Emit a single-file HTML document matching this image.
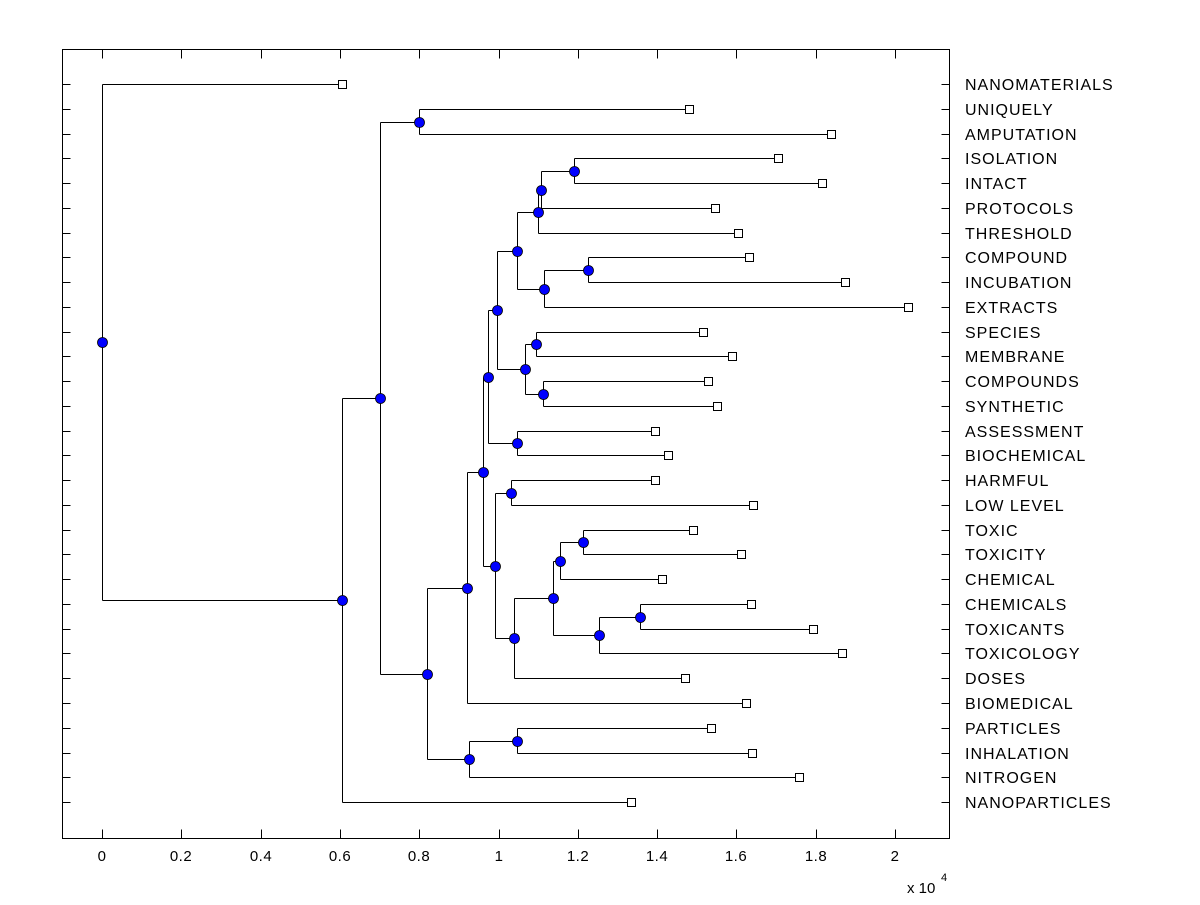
<!DOCTYPE html>
<html><head><style>body{margin:0;background:#fff}svg text{font-family:"Liberation Sans",Arial,sans-serif;fill:#000}</style></head>
<body>
<svg id="s" width="1200" height="900" xmlns="http://www.w3.org/2000/svg">
<rect x="0" y="0" width="1200" height="900" fill="#fff"/>
<g id="g" stroke="#000" stroke-width="1" fill="none" shape-rendering="crispEdges"></g>
<g id="m"></g>
<g id="t" font-size="16"></g>
</svg>
<script>
var NS="http://www.w3.org/2000/svg";
function el(p,n,a,txt){var e=document.createElementNS(NS,n);for(var k in a)e.setAttribute(k,a[k]);if(txt!=null)e.textContent=txt;document.getElementById(p).appendChild(e);return e;}
function line(x1,y1,x2,y2){el('g','line',{x1:x1+.5,y1:y1+.5,x2:x2+.5,y2:y2+.5});}
var L=62,R=949,T=49,B=838;
el('g','rect',{x:L+.5,y:T+.5,width:R-L,height:B-T});
var names=["NANOMATERIALS","UNIQUELY","AMPUTATION","ISOLATION","INTACT","PROTOCOLS","THRESHOLD","COMPOUND","INCUBATION","EXTRACTS","SPECIES","MEMBRANE","COMPOUNDS","SYNTHETIC","ASSESSMENT","BIOCHEMICAL","HARMFUL","LOW LEVEL","TOXIC","TOXICITY","CHEMICAL","CHEMICALS","TOXICANTS","TOXICOLOGY","DOSES","BIOMEDICAL","PARTICLES","INHALATION","NITROGEN","NANOPARTICLES"];
var lx=[342,689,831,778,822,715,738,749,845,908,703,732,708,717,655,668,655,753,693,741,662,751,813,842,685,746,711,752,799,631];
function ry(i){return Math.round(84+24.76*i);}
for(var i=0;i<30;i++){var y=ry(i);line(L,y,L+8,y);line(R-8,y,R,y);
 el('t','text',{x:965,y:y+6,'letter-spacing':'1'},names[i]);}
var xt=["0","0.2","0.4","0.6","0.8","1","1.2","1.4","1.6","1.8","2"];
for(var j=0;j<11;j++){var x=Math.round(102+79.3*j);line(x,B-9,x,B);line(x,T,x,T+9);
 el('t','text',{x:x,y:861,'text-anchor':'middle','font-size':'15','letter-spacing':'0.5'},xt[j]);}
el('t','text',{x:907,y:893,'font-size':'15'},'x 10');
el('t','text',{x:941,y:881,'font-size':'11'},'4');
var nodes={};
for(var i=0;i<30;i++)nodes['l'+i]={x:lx[i],y:ry(i),leaf:1};
var defs=[
['R1',574,'l3','l4'],['Q',541,'R1','l5'],['O',538,'Q','l6'],['S',588,'l7','l8'],['P',544,'S','l9'],['M',517,'O','P'],
['T',536,'l10','l11'],['U',543,'l12','l13'],['N',525,'T','U'],['K',497,'M','N'],['Lq',517,'l14','l15'],['I',488,'K','Lq'],
['V',511,'l16','l17'],['AA',583,'l18','l19'],['Y',560,'AA','l20'],['AB',640,'l21','l22'],['Z',599,'AB','l23'],['X',553,'Y','Z'],
['W',514,'X','l24'],['J',495,'V','W'],['H',483,'I','J'],['E',467,'H','l25'],['G',517,'l26','l27'],['F',469,'G','l28'],
['D',427,'E','F'],['C',419,'l1','l2'],['B',380,'C','D'],['A',342,'B','l29'],['Root',102,'l0','A']];
defs.forEach(function(d){var a=nodes[d[2]],b=nodes[d[3]];var n={x:d[1],y:Math.round((a.y+b.y)/2)};nodes[d[0]]=n;
 line(n.x,a.y,n.x,b.y);line(n.x,a.y,a.x,a.y);line(n.x,b.y,b.x,b.y);});
for(var k in nodes){var n=nodes[k];
 if(n.leaf)el('m','rect',{x:n.x-3.5,y:n.y-3.5,width:8,height:8,fill:'#fff',stroke:'#000','stroke-width':1});
 else el('m','circle',{cx:n.x+.5,cy:n.y+.5,r:5,fill:'#0000ff',stroke:'#000','stroke-width':0.8});}
</script>
</body></html>
